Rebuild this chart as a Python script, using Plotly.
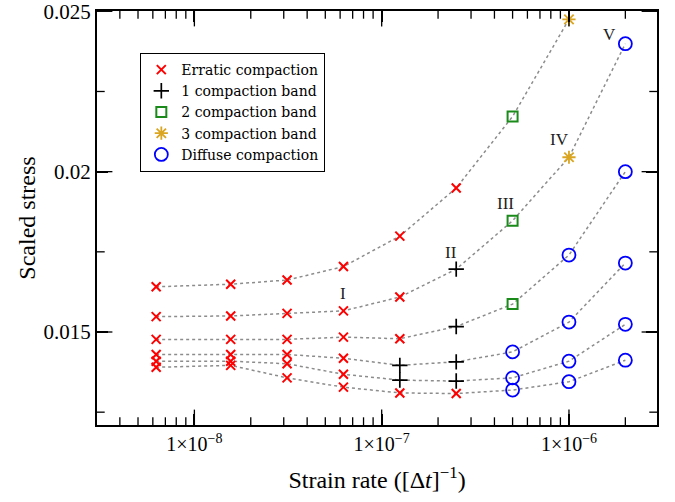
import numpy as np
import plotly.graph_objects as go

# ---- data ----
strain_rate = [6.25e-9, 1.5625e-8, 3.125e-8, 6.25e-8, 1.25e-7, 2.5e-7, 5e-7, 1e-6, 2e-6]

curve_A = [0.01641, 0.01649, 0.01662, 0.01704, 0.01799, 0.01949, 0.02172, 0.02475, None]
curve_B = [0.01548, 0.01550, 0.01558, 0.01566, 0.01609, 0.01696, 0.01847, 0.02045, 0.02399]
curve_C = [0.01477, 0.01477, 0.01477, 0.01484, 0.01479, 0.01517, 0.01587, 0.01740, 0.02000]
curve_D = [0.01430, 0.01430, 0.01430, 0.01418, 0.01396, 0.01407, 0.01438, 0.01531, 0.01715]
curve_E = [0.01409, 0.01409, 0.01401, 0.01368, 0.01350, 0.01347, 0.01357, 0.01409, 0.01524]
curve_F = [0.01390, 0.01396, 0.01357, 0.01328, 0.01310, 0.01308, 0.01319, 0.01345, 0.01412]

# regime codes: E=erratic, 1=one band, 2=two bands, 3=three bands, D=diffuse
regime_A = ["E", "E", "E", "E", "E", "E", "2", "3", None]
regime_B = ["E", "E", "E", "E", "E", "1", "2", "3", "D"]
regime_C = ["E", "E", "E", "E", "E", "1", "2", "D", "D"]
regime_D = ["E", "E", "E", "E", "1", "1", "D", "D", "D"]
regime_E = ["E", "E", "E", "E", "1", "1", "D", "D", "D"]
regime_F = ["E", "E", "E", "E", "E", "E", "D", "D", "D"]

regime_names = ["Erratic compaction", "1 compaction band", "2 compaction band",
                "3 compaction band", "Diffuse compaction"]
regime_codes = ["E", "1", "2", "3", "D"]

# labelled points on curve B (index into strain_rate) and their labels
label_text = ["I", "II", "III", "IV", "V"]
label_index = [3, 5, 6, 7, 8]

x_tick_vals = [1e-8, 1e-7, 1e-6]
x_tick_text = ["1×10<sup>−8</sup>", "1×10<sup>−7</sup>", "1×10<sup>−6</sup>"]
y_tick_vals = [0.015, 0.02, 0.025]
y_tick_text = ["0.015", "0.02", "0.025"]
y_minor_vals = [0.0125, 0.0175, 0.0225]

curves = [curve_A, curve_B, curve_C, curve_D, curve_E, curve_F]
regimes = [regime_A, regime_B, regime_C, regime_D, regime_E, regime_F]

# ---- styles ----
styles = {
    "E": dict(symbol="x-thin-open", color="#ff0000", size=9, width=2),
    "1": dict(symbol="cross-thin-open", color="#000000", size=11, width=1.7),
    "2": dict(symbol="square-open", color="#1a8a1a", size=10, width=2),
    "3": dict(symbol="asterisk-open", color="#daa520", size=11, width=1.8),
    "D": dict(symbol="circle-open", color="#0000ff", size=13, width=1.8),
}

SERIF = "Liberation Serif"
LEGEND_FONT = "DejaVu Serif"

X_RANGE = [-8.52, -5.53]
Y_RANGE = [0.0121, 0.02501]

fig = go.Figure()

for ys in curves:
    fig.add_trace(go.Scatter(
        x=strain_rate, y=ys, mode="lines", showlegend=False, hoverinfo="skip",
        line=dict(color="#8c8c8c", width=1.5, dash="dot"),
    ))

for code, name in zip(regime_codes, regime_names):
    xs, ys = [], []
    for cy, cr in zip(curves, regimes):
        for xv, yv, rv in zip(strain_rate, cy, cr):
            if rv == code and yv is not None:
                xs.append(xv)
                ys.append(yv)
    s = styles[code]
    fig.add_trace(go.Scatter(
        x=xs, y=ys, mode="markers", name=name,
        marker=dict(symbol=s["symbol"], size=s["size"], color=s["color"],
                    line=dict(color=s["color"], width=s["width"])),
    ))

shifts = [(0, 17), (-5, 17), (-7, 17), (-9, 18), (-16, 9)]
for txt, idx, (dx, dy) in zip(label_text, label_index, shifts):
    fig.add_annotation(
        x=np.log10(strain_rate[idx]), y=curve_B[idx], text=txt, showarrow=False,
        xshift=dx, yshift=dy, font=dict(family=SERIF, size=17, color="#222"),
    )

# axis ticks drawn as line markers sitting on the frame edges; the half that
# falls outside the plot area is clipped, leaving inward-pointing ticks.
x_minor_vals = [m * 10.0 ** e for e in range(-9, -5) for m in range(2, 10)
                if X_RANGE[0] < np.log10(m * 10.0 ** e) < X_RANGE[1]]
x_edges = [10.0 ** X_RANGE[0], 10.0 ** X_RANGE[1]]
y_edges = Y_RANGE


def tick_trace(xs, ys, symbol, size):
    return go.Scatter(
        x=xs, y=ys, mode="markers", showlegend=False, hoverinfo="skip",
        cliponaxis=True,
        marker=dict(symbol=symbol, size=size, color="black",
                    line=dict(color="black", width=1.3)),
    )


for yv in y_edges:
    fig.add_trace(tick_trace(x_minor_vals, [yv] * len(x_minor_vals), "line-ns-open", 11))
    fig.add_trace(tick_trace(x_tick_vals, [yv] * len(x_tick_vals), "line-ns-open", 22))
for xv in x_edges:
    fig.add_trace(tick_trace([xv] * len(y_minor_vals), y_minor_vals, "line-ew-open", 11))
    fig.add_trace(tick_trace([xv] * len(y_tick_vals), y_tick_vals, "line-ew-open", 22))

fig.update_layout(
    width=675, height=502,
    margin=dict(l=97, r=18, t=11, b=77),
    paper_bgcolor="white", plot_bgcolor="white",
    font=dict(family=SERIF, color="black"),
    legend=dict(
        x=0.077, y=0.899, xanchor="left", yanchor="top",
        bordercolor="black", borderwidth=1.2, bgcolor="white",
        font=dict(family=LEGEND_FONT, size=14), tracegroupgap=0,
    ),
)

fig.update_xaxes(
    type="log", range=X_RANGE, automargin="bottom",
    title=dict(text="Strain rate ([Δ<i>t</i>]<sup>−1</sup>)", font=dict(family=SERIF, size=24), standoff=17),
    tickmode="array", tickvals=x_tick_vals, ticktext=x_tick_text,
    tickfont=dict(family=SERIF, size=20), ticklabeloverflow="allow",
    ticks="inside", ticklen=11, tickwidth=1.6, tickcolor="black",
    showline=True, linecolor="black", linewidth=2, mirror="ticks",
    showgrid=False, zeroline=False,
)
fig.update_yaxes(
    range=Y_RANGE, automargin="left",
    title=dict(text="Scaled stress", font=dict(family=SERIF, size=24), standoff=1),
    tickmode="array", tickvals=y_tick_vals, ticktext=y_tick_text,
    tickfont=dict(family=SERIF, size=21), ticklabeloverflow="allow",
    ticks="inside", ticklen=11, tickwidth=1.6, tickcolor="black",
    showline=True, linecolor="black", linewidth=2, mirror="ticks",
    showgrid=False, zeroline=False,
)

fig.write_html("out.html")
